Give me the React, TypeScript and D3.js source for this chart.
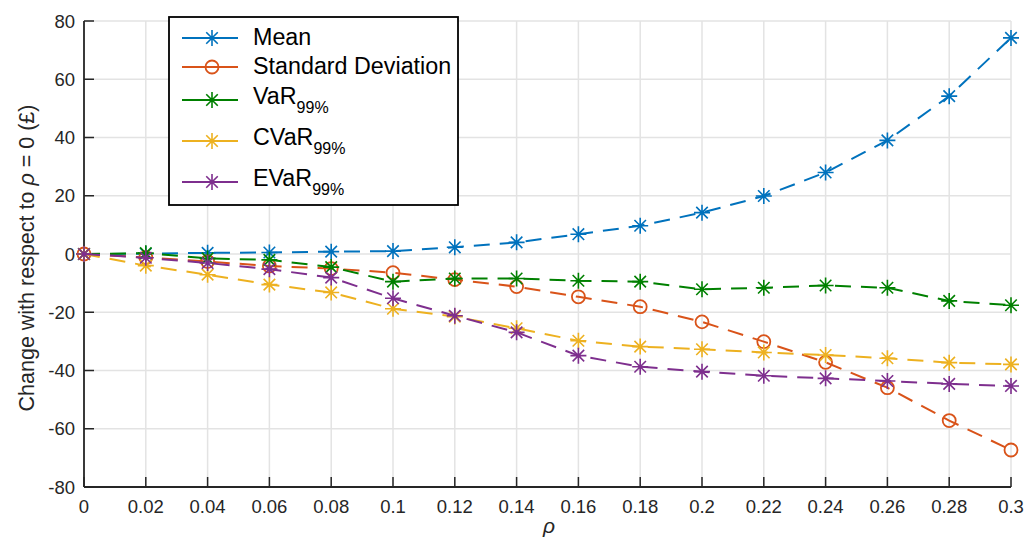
import React from "react";
import * as d3 from "d3";

const rho = [0, 0.02, 0.04, 0.06, 0.08, 0.1, 0.12, 0.14, 0.16, 0.18, 0.2, 0.22, 0.24, 0.26, 0.28, 0.3];
const meanVals = [0, 0.1, 0.4, 0.5, 0.8, 1.0, 2.3, 4.0, 6.8, 9.7, 14.2, 19.9, 28.0, 39.0, 54.2, 74.2];
const stdVals = [0, -1.2, -2.6, -4.1, -5.0, -6.4, -8.8, -11.2, -14.7, -18.1, -23.3, -30.1, -37.2, -45.9, -57.2, -67.3];
const varVals = [0, 0.3, -1.5, -2.0, -4.5, -9.5, -8.4, -8.4, -9.2, -9.5, -12.1, -11.6, -10.8, -11.6, -16.1, -17.6];
const cvarVals = [0, -4.0, -7.1, -10.5, -13.2, -18.8, -21.5, -25.5, -29.8, -31.8, -32.7, -33.8, -34.7, -35.8, -37.3, -37.9];
const evarVals = [0, -1.3, -3.1, -5.2, -8.1, -15.2, -21.2, -26.9, -34.9, -38.7, -40.4, -41.8, -42.7, -43.6, -44.6, -45.3];

const xTicks = [0, 0.02, 0.04, 0.06, 0.08, 0.1, 0.12, 0.14, 0.16, 0.18, 0.2, 0.22, 0.24, 0.26, 0.28, 0.3];
const yTicks = [-80, -60, -40, -20, 0, 20, 40, 60, 80];

const seriesNames = ["Mean", "Standard Deviation", "VaR", "CVaR", "EVaR"];
const seriesSubs = ["", "", "99%", "99%", "99%"];
const seriesColors = ["#0072BD", "#D95319", "#008000", "#EDB120", "#7E2F8E"];
const seriesMarkers = ["star", "circle", "star", "star", "star"];
const seriesData = [meanVals, stdVals, varVals, cvarVals, evarVals];

const FONT = "'Liberation Sans', Arial, Helvetica, sans-serif";

const starPath = (r: number) => {
  const d = r * 0.72;
  return `M0,${-r}L0,${r}M${-r},0L${r},0M${-d},${-d}L${d},${d}M${-d},${d}L${d},${-d}`;
};

function Marker({ type, x, y, color }: { type: string; x: number; y: number; color: string }) {
  if (type === "circle") {
    return <circle cx={x} cy={y} r={6.5} fill="none" stroke={color} strokeWidth={1.8} />;
  }
  return <path d={starPath(8)} transform={`translate(${x},${y})`} fill="none" stroke={color} strokeWidth={1.6} />;
}

export default function App() {
  const W = 1034, H = 540;
  const x = d3.scaleLinear().domain([0, 0.3]).range([84, 1011]);
  const y = d3.scaleLinear().domain([-80, 80]).range([487, 21]);
  const line = d3.line<number>().x((_, i) => x(rho[i])).y((v) => y(v));

  const legendRows = [38, 67, 100, 141, 182];
  const legendBaselines = [45, 74, 104, 145, 186];

  return (
    <svg width={W} height={H} style={{ position: "absolute", left: 0, top: 0, background: "#fff" }} fontFamily={FONT}>
      <rect x={0} y={0} width={W} height={H} fill="#fff" />
      {xTicks.map((t) => (
        <line key={"gx" + t} x1={x(t)} x2={x(t)} y1={y(-80)} y2={y(80)} stroke="#e3e3e3" strokeWidth={1.5} />
      ))}
      {yTicks.map((t) => (
        <line key={"gy" + t} x1={x(0)} x2={x(0.3)} y1={y(t)} y2={y(t)} stroke="#e3e3e3" strokeWidth={1.5} />
      ))}
      <line x1={x(0)} x2={x(0)} y1={y(80)} y2={y(-80)} stroke="#262626" strokeWidth={1.8} />
      <line x1={x(0)} x2={x(0.3)} y1={y(-80)} y2={y(-80)} stroke="#262626" strokeWidth={1.8} />
      {yTicks.map((t) => (
        <g key={"ty" + t}>
          <line x1={x(0)} x2={x(0) + 10} y1={y(t)} y2={y(t)} stroke="#262626" strokeWidth={1.5} />
          <text x={75} y={y(t) + 6.5} textAnchor="end" fontSize={18.5} fill="#262626">
            {t}
          </text>
        </g>
      ))}
      {xTicks.map((t) => (
        <g key={"tx" + t}>
          <line x1={x(t)} x2={x(t)} y1={y(-80)} y2={y(-80) - 10} stroke="#262626" strokeWidth={1.5} />
          <text x={x(t)} y={513} textAnchor="middle" fontSize={18.5} fill="#262626">
            {String(t)}
          </text>
        </g>
      ))}
      <text x={549} y={533} textAnchor="middle" fontSize={21} fontStyle="italic" fill="#262626">
        ρ
      </text>
      <text transform="translate(34,258) rotate(-90)" textAnchor="middle" fontSize={21.5} fill="#262626">
        Change with respect to <tspan fontStyle="italic">ρ</tspan> = 0 (£)
      </text>
      {seriesData.map((vals, si) => (
        <g key={"s" + si}>
          <path d={line(vals) || ""} fill="none" stroke={seriesColors[si]} strokeWidth={2} strokeDasharray="16,10" />
          {vals.map((v, i) => (
            <Marker key={i} type={seriesMarkers[si]} x={x(rho[i])} y={y(v)} color={seriesColors[si]} />
          ))}
        </g>
      ))}
      <rect x={169} y={17} width={289} height={188} fill="#fff" stroke="#000" strokeWidth={1.8} />
      {seriesNames.map((name, i) => (
        <g key={"l" + i}>
          <line x1={182} x2={238} y1={legendRows[i]} y2={legendRows[i]} stroke={seriesColors[i]} strokeWidth={2} />
          <Marker type={seriesMarkers[i]} x={212} y={legendRows[i]} color={seriesColors[i]} />
          <text x={253} y={legendBaselines[i]} fontSize={23.3} fill="#000">
            {name}
            {seriesSubs[i] ? (
              <tspan dy={9} fontSize={16}>
                {seriesSubs[i]}
              </tspan>
            ) : null}
          </text>
        </g>
      ))}
    </svg>
  );
}
